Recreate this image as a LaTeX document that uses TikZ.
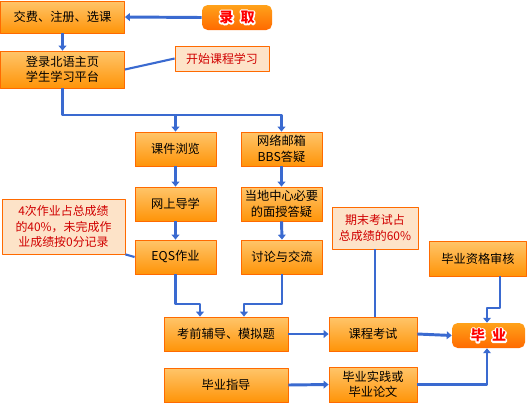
\documentclass[tikz,border=0pt]{standalone}
\usepackage{fontspec}
\setmainfont{Noto Sans CJK SC}
\newfontfamily\haloface{Noto Sans CJK SC}[FakeBold=22]
\usepackage{tikz}
\usetikzlibrary{arrows.meta}
\definecolor{arrblue}{HTML}{3A6AD0}
\definecolor{boxtop}{HTML}{FFC56A}
\definecolor{boxbot}{HTML}{FF9408}
\definecolor{boxline}{HTML}{FF6A00}
\definecolor{notefill}{HTML}{FDE3C8}
\definecolor{notetext}{HTML}{D00000}
\definecolor{badgetop}{HTML}{FFA21A}
\definecolor{badgebot}{HTML}{FF6A00}
\newcommand{\halotext}[1]{{\haloface\bfseries\color{white}\rlap{#1}}{\bfseries\color{red}#1}}
\tikzset{
  every picture/.style={x=0.025cm, y=-0.025cm, line join=round, >=Stealth},
  box/.style={draw=boxline, line width=0.6pt, top color=boxtop, bottom color=boxbot, inner sep=0pt, align=center, font=\fontsize{8.7}{11}\selectfont},
  note/.style={draw=boxline, line width=0.6pt, fill=notefill, inner sep=0pt, align=center, text=notetext, font=\fontsize{8.5}{11}\selectfont},
  badge/.style={rounded corners=4pt, top color=badgetop, bottom color=badgebot, inner sep=0pt, font=\fontsize{10}{12}\selectfont},
  arr/.style={draw=arrblue, line width=2.1pt, -{Triangle[width=5.5pt,length=3.5pt]}},
  link/.style={draw=arrblue, line width=1.5pt},
}

\begin{document}
\begin{tikzpicture}
\useasboundingbox (0,0) rectangle (527,403);
\node[box, minimum width=124*0.025cm, minimum height=32*0.025cm] (pay) at (62.5,17) {交费、注册、选课};
\node[badge, minimum width=70*0.025cm, minimum height=25*0.025cm] (admit) at (237,17.5) {\halotext{录\enspace 取}};
\node[box, minimum width=124*0.025cm, minimum height=37*0.025cm] (login) at (62.5,69.5) {登录北语主页\\学生学习平台};
\node[note, minimum width=94*0.025cm, minimum height=25*0.025cm] (start) at (222,58.5) {开始课程学习};
\node[box, minimum width=81*0.025cm, minimum height=34*0.025cm] (browse) at (175.5,149) {课件浏览};
\node[box, minimum width=81*0.025cm, minimum height=34*0.025cm] (mail) at (281.5,149) {网络邮箱\\BBS答疑};
\node[box, minimum width=81*0.025cm, minimum height=34*0.025cm] (guide) at (175.5,204) {网上导学};
\node[box, minimum width=81*0.025cm, minimum height=34*0.025cm] (local) at (281.5,204) {当地中心必要\\的面授答疑};
\node[box, minimum width=81*0.025cm, minimum height=34*0.025cm] (eqs) at (175.5,257) {EQS作业};
\node[box, minimum width=81*0.025cm, minimum height=34*0.025cm] (discuss) at (282,257) {讨论与交流};
\node[note, minimum width=123*0.025cm, minimum height=55*0.025cm] (hwnote) at (63.5,226.5) {4次作业占总成绩\\的40\%，未完成作\\业成绩按0分记录};
\node[box, minimum width=124*0.025cm, minimum height=34*0.025cm] (prep) at (226,334) {考前辅导、模拟题};
\node[box, minimum width=88*0.025cm, minimum height=34*0.025cm] (exam) at (373,334) {课程考试};
\node[note, minimum width=86*0.025cm, minimum height=42*0.025cm] (examnote) at (375,228) {期末考试占\\总成绩的60\%};
\node[box, minimum width=97*0.025cm, minimum height=35*0.025cm] (audit) at (478,258.5) {毕业资格审核};
\node[badge, minimum width=73*0.025cm, minimum height=25*0.025cm] (grad) at (488.5,335.5) {\halotext{毕\enspace 业}};
\node[box, minimum width=124*0.025cm, minimum height=34*0.025cm] (mentor) at (226,385) {毕业指导};
\node[box, minimum width=88*0.025cm, minimum height=35*0.025cm] (thesis) at (373,384.5) {毕业实践或\\毕业论文};
\coordinate (bus) at (0,115);
\coordinate (m1) at (200,304);
\coordinate (m2) at (244,304);
\coordinate (c1) at (500,308);
\coordinate (c2) at (487,308);
\draw[arr] (admit.west) -- (pay.east);
\draw[arr] (pay.south) -- (login.north);
\draw[link] (start.west) -- (login.east);
\draw[arr] (login.south) |- (mail.north |- bus) -- (mail.north);
\draw[arr] (browse.north |- bus) -- (browse.north);
\draw[arr] (browse.south) -- (guide.north);
\draw[arr] (guide.south) -- (eqs.north);
\draw[arr] (mail.south) -- (local.north);
\draw[arr] (local.south) -- (discuss.north);
\draw[link] (hwnote.south east) -- (eqs.west);
\draw[arr] (eqs.south) |- (m1) -- (m1 |- prep.north);
\draw[arr] (discuss.south) |- (m2) -- (m2 |- prep.north);
\draw[arr] (prep.east) -- (exam.west);
\draw[link] (examnote.south) -- (examnote.south |- exam.north);
\draw[arr] (exam.east) -- (grad.west);
\draw[arr] (c1 |- audit.south) -- (c1) -- (c2) -- (c2 |- grad.north);
\draw[arr] (mentor.east) -- (thesis.west);
\draw[arr] (thesis.east) -| (c2 |- grad.south);
\end{tikzpicture}
\end{document}
